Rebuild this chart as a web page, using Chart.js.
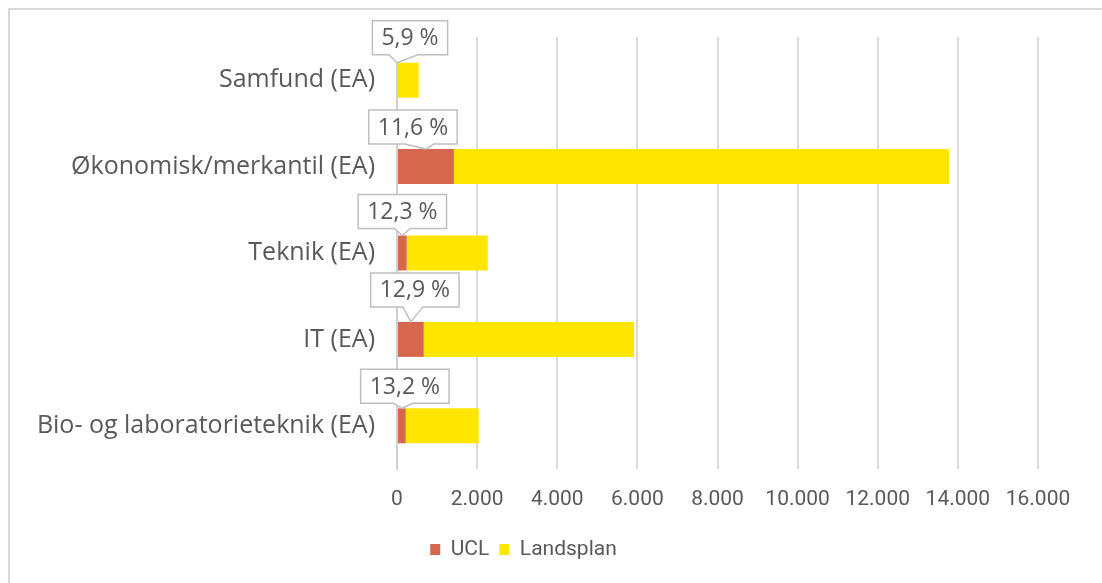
<!DOCTYPE html>
<html>
<head>
<meta charset="utf-8">
<script src="https://cdn.jsdelivr.net/npm/chart.js@4"></script>
<style>
  html, body { margin: 0; padding: 0; background: #fff; }
  #wrap { width: 1102px; height: 583px; position: relative; }
</style>
</head>
<body>
<div id="wrap"><canvas id="chart"></canvas></div>
<script>
const categories = [
  'Samfund (EA)',
  'Økonomisk/merkantil (EA)',
  'Teknik (EA)',
  'IT (EA)',
  'Bio- og laboratorieteknik (EA)'
];
const uclValues = [0, 1420, 242, 667, 217];
const landsplanValues = [540, 12360, 2022, 5251, 1823];
const shareLabels = ['5,9 %', '11,6 %', '12,3 %', '12,9 %', '13,2 %'];

const textColor = '#595959';
const mainFont = "'Open Sans', sans-serif";
const narrowFont = "'Liberation Sans Narrow', 'Roboto', sans-serif";

Chart.defaults.font.family = mainFont;
Chart.defaults.color = textColor;
Chart.defaults.maintainAspectRatio = false;
Chart.defaults.animation = false;

// outer frame of the chart area (Excel style)
const framePlugin = {
  id: 'frame',
  beforeDraw(chart) {
    const { ctx } = chart;
    ctx.save();
    ctx.fillStyle = '#fff';
    ctx.fillRect(0, 0, chart.width, chart.height);
    ctx.strokeStyle = '#d9d9d9';
    ctx.lineWidth = 2;
    ctx.strokeRect(9, 9, chart.width + 10, chart.height + 10);
    ctx.restore();
  }
};

// callout boxes with the UCL share
const calloutPlugin = {
  id: 'callouts',
  afterDatasetsDraw(chart, args, opts) {
    const { ctx } = chart;
    const meta = chart.getDatasetMeta(0);
    ctx.save();
    ctx.font = `23px ${mainFont}`;
    ctx.textAlign = 'center';
    ctx.textBaseline = 'middle';
    meta.data.forEach((bar, i) => {
      const props = bar.getProps(['x', 'y', 'base', 'height'], true);
      const ax = (props.x + props.base) / 2;
      const ay = props.y - props.height / 2;
      const text = shareLabels[i];
      const w = ctx.measureText(text).width + 18;
      const h = 34;
      const cx = ax + opts.dx[i];
      const bottom = ay - opts.gap[i];
      const top = bottom - h;
      const left = cx - w / 2;
      const right = cx + w / 2;
      const pl = Math.max(left + 2, Math.min(ax, cx) - 8);
      const pr = Math.min(right - 2, Math.max(ax, cx) + 8);

      ctx.beginPath();
      ctx.moveTo(left, top);
      ctx.lineTo(right, top);
      ctx.lineTo(right, bottom);
      ctx.lineTo(pr, bottom);
      ctx.lineTo(ax, ay);
      ctx.lineTo(pl, bottom);
      ctx.lineTo(left, bottom);
      ctx.closePath();
      ctx.fillStyle = '#fff';
      ctx.fill();
      ctx.strokeStyle = '#bfbfbf';
      ctx.lineWidth = 1.5;
      ctx.stroke();

      ctx.fillStyle = textColor;
      ctx.fillText(text, cx, (top + bottom) / 2 + 1);
    });
    ctx.restore();
  }
};

new Chart(document.getElementById('chart').getContext('2d'), {
  type: 'bar',
  data: {
    labels: categories,
    datasets: [
      { label: 'UCL', data: uclValues, backgroundColor: '#D4674C' },
      { label: 'Landsplan', data: landsplanValues, backgroundColor: '#FFE600' }
    ]
  },
  options: {
    indexAxis: 'y',
    layout: { padding: { left: 9, right: 64, top: 37, bottom: 13 } },
    datasets: {
      bar: { categoryPercentage: 1, barPercentage: 0.405 }
    },
    scales: {
      x: {
        stacked: true,
        min: 0,
        max: 16000,
        ticks: {
          stepSize: 2000,
          font: { size: 21, family: narrowFont },
          color: textColor,
          padding: 18,
          maxRotation: 0,
          callback: (v) => v.toLocaleString('da-DK')
        },
        grid: { color: '#d9d9d9', lineWidth: 2, drawTicks: false },
        border: { display: false },
        afterFit(scale) { scale.height = 60; }
      },
      y: {
        stacked: true,
        ticks: { font: { size: 25 }, color: textColor, padding: 22 },
        grid: { display: false, drawTicks: false },
        border: { color: '#d0d0d0', width: 2 },
        afterFit(scale) { scale.width = 388; }
      }
    },
    plugins: {
      legend: {
        position: 'bottom',
        labels: {
          font: { size: 21, family: narrowFont },
          color: textColor,
          boxWidth: 10,
          boxHeight: 11,
          padding: 10
        }
      },
      tooltip: { enabled: false },
      callouts: {
        dx: [13, -13, 0, 4, 3],
        gap: [8, 5, 7, 15, 5]
      }
    }
  },
  plugins: [framePlugin, calloutPlugin]
});
</script>
</body>
</html>
